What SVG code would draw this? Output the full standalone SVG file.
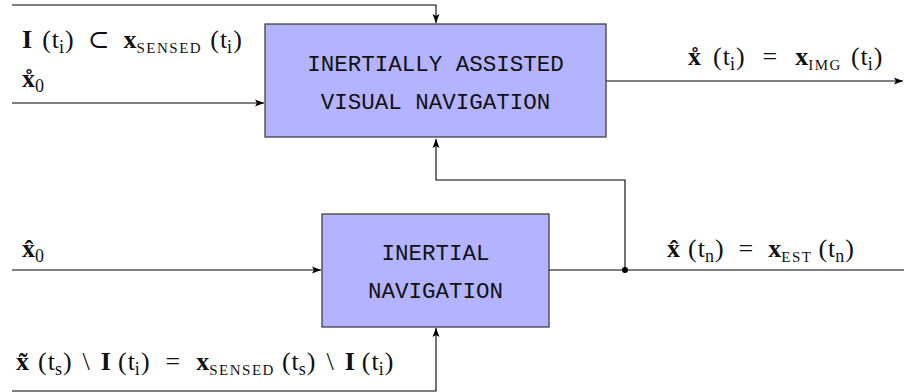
<svg xmlns="http://www.w3.org/2000/svg" width="904" height="392" viewBox="0 0 904 392">
<style>
.box{fill:#b3b3ff;stroke:#333;stroke-width:1.2}
.lbl{font-family:"Liberation Mono","DejaVu Sans Mono",monospace;font-size:22.5px;fill:#111;text-anchor:middle}
.m{font-family:"Liberation Serif","DejaVu Serif",serif;font-size:26px;fill:#111}
.b{font-weight:bold}
.s{font-size:18px}
.sc{font-size:15px;letter-spacing:1.5px}
.ln{fill:none;stroke:#000;stroke-width:1.1}
</style>
<defs>
<marker id="ah" markerWidth="10" markerHeight="8" refX="9" refY="4" orient="auto" markerUnits="userSpaceOnUse">
<path d="M0,0.5 L9,4 L0,7.5 L2,4 Z" fill="#000"/>
</marker>
</defs>
<g id="connectors">
<path class="ln" d="M12,5 H436 V23" marker-end="url(#ah)"/>
<path class="ln" d="M12,103 H264" marker-end="url(#ah)"/>
<path class="ln" d="M606,81 H903" marker-end="url(#ah)"/>
<path class="ln" d="M12,270 H321" marker-end="url(#ah)"/>
<path class="ln" d="M549,270 H904"/>
<path class="ln" d="M625,270 V180 H436 V139" marker-end="url(#ah)"/>
<path class="ln" d="M12,391 H436 V328" marker-end="url(#ah)"/>
<circle cx="625" cy="270" r="3" fill="#000"/>
</g>
<g id="node-iavn">
<rect class="box" x="265" y="24" width="341" height="113"/>
<text class="lbl" x="435.5" y="71">INERTIALLY ASSISTED</text>
<text class="lbl" x="435.5" y="109">VISUAL NAVIGATION</text>
</g>
<g id="node-in">
<rect class="box" x="322" y="214" width="227" height="113"/>
<text class="lbl" x="435.5" y="260">INERTIAL</text>
<text class="lbl" x="435.5" y="298">NAVIGATION</text>
</g>
<g id="labels">
<text class="m" x="22" y="48"><tspan class="b">I</tspan><tspan dx="10">(</tspan><tspan dx="1">t</tspan><tspan class="s" baseline-shift="-5">i</tspan><tspan dx="1">)</tspan><tspan dx="14">⊂</tspan><tspan class="b" dx="14">x</tspan><tspan class="sc" baseline-shift="-5">SENSED</tspan><tspan dx="8">(</tspan><tspan dx="1">t</tspan><tspan class="s" baseline-shift="-5">i</tspan><tspan dx="1">)</tspan></text>
<text class="m" x="22" y="87"><tspan class="b">x̊</tspan><tspan class="s" baseline-shift="-5">0</tspan></text>
<text class="m" x="688" y="65"><tspan class="b">x̊</tspan><tspan dx="12">(</tspan><tspan dx="1">t</tspan><tspan class="s" baseline-shift="-5">i</tspan><tspan dx="1">)</tspan><tspan dx="18">=</tspan><tspan class="b" dx="18">x</tspan><tspan class="sc" baseline-shift="-5">IMG</tspan><tspan dx="9">(</tspan><tspan dx="1">t</tspan><tspan class="s" baseline-shift="-5">i</tspan><tspan dx="1">)</tspan></text>
<text class="m" x="22" y="257"><tspan class="b">x̂</tspan><tspan class="s" baseline-shift="-5">0</tspan></text>
<text class="m" x="667" y="257"><tspan class="b">x̂</tspan><tspan dx="8">(</tspan><tspan dx="1">t</tspan><tspan class="s" baseline-shift="-5">n</tspan><tspan dx="1">)</tspan><tspan dx="15">=</tspan><tspan class="b" dx="15">x</tspan><tspan class="sc" baseline-shift="-5">EST</tspan><tspan dx="6">(</tspan><tspan dx="1">t</tspan><tspan class="s" baseline-shift="-5">n</tspan><tspan dx="1">)</tspan></text>
<text class="m" x="16" y="370"><tspan class="b">x̃</tspan><tspan dx="9">(</tspan><tspan dx="1">t</tspan><tspan class="s" baseline-shift="-5">s</tspan><tspan dx="1">)</tspan><tspan dx="11">\</tspan><tspan class="b" dx="11">I</tspan><tspan dx="7">(</tspan><tspan dx="1">t</tspan><tspan class="s" baseline-shift="-5">i</tspan><tspan dx="1">)</tspan><tspan dx="16">=</tspan><tspan class="b" dx="16">x</tspan><tspan class="sc" baseline-shift="-5">SENSED</tspan><tspan dx="7">(</tspan><tspan dx="1">t</tspan><tspan class="s" baseline-shift="-5">s</tspan><tspan dx="1">)</tspan><tspan dx="11">\</tspan><tspan class="b" dx="11">I</tspan><tspan dx="7">(</tspan><tspan dx="1">t</tspan><tspan class="s" baseline-shift="-5">i</tspan><tspan dx="1">)</tspan></text>
</g>
</svg>
